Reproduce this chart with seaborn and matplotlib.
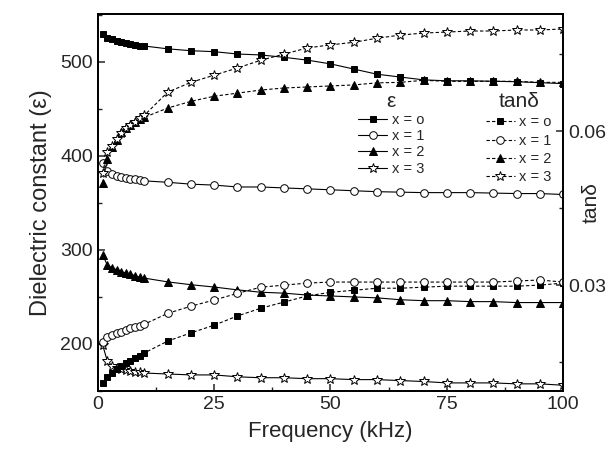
import matplotlib
matplotlib.use('Agg')
import matplotlib.pyplot as plt
import seaborn as sns
from matplotlib.lines import Line2D
from matplotlib.ticker import MultipleLocator

# frequency points (kHz)
freq = [1, 2, 3, 4, 5, 6, 7, 8, 9, 10,
        15, 20, 25, 30, 35, 40, 45, 50, 55, 60,
        65, 70, 75, 80, 85, 90, 95, 100]

# dielectric constant
eps_x0 = [530, 526, 524, 522, 521, 520, 519, 518, 517.5, 517,
          514, 512, 511, 508.5, 507.5, 505, 502, 498, 492.5, 487,
          484, 481, 480, 480, 479.5, 479, 478, 477]
eps_x1 = [392, 384, 381, 379, 378, 377, 376, 375, 374.5, 373.5,
          372, 370, 369, 367, 367, 366, 365, 364, 363, 362,
          361.5, 361, 361, 361, 360.5, 360, 360, 359]
eps_x2 = [295, 284, 281, 279, 277, 275.5, 274.5, 272.5, 271, 270,
          266, 263, 260.5, 257.5, 255, 254, 252, 251, 250, 249,
          247, 246, 246, 245, 245, 244, 244, 244]
eps_x3 = [199, 182, 176.5, 174.5, 173.5, 172, 171, 170, 170, 169,
          168, 167, 167, 165, 164, 164, 163, 163, 162, 162,
          161, 160, 158.5, 158.5, 158.5, 157.5, 157.5, 156]

# loss tangent
tan_x0 = [0.0109, 0.0121, 0.0129, 0.0136, 0.0142, 0.0148, 0.0152, 0.0158, 0.0162, 0.0168,
          0.0191, 0.0207, 0.0222, 0.0240, 0.0255, 0.0267, 0.0279, 0.0286, 0.0290, 0.0294,
          0.0294, 0.0296, 0.0298, 0.0298, 0.0298, 0.0298, 0.0300, 0.0304]
tan_x1 = [0.0189, 0.0199, 0.0203, 0.0207, 0.0208, 0.0212, 0.0216, 0.0218, 0.0220, 0.0224,
          0.0245, 0.0259, 0.0271, 0.0284, 0.0296, 0.0300, 0.0304, 0.0306, 0.0306, 0.0306,
          0.0306, 0.0306, 0.0306, 0.0306, 0.0306, 0.0308, 0.0310, 0.0306]
tan_x2 = [0.0499, 0.0545, 0.0569, 0.0582, 0.0598, 0.0606, 0.0612, 0.0618, 0.0623, 0.0627,
          0.0645, 0.0658, 0.0668, 0.0674, 0.0680, 0.0684, 0.0686, 0.0688, 0.0690, 0.0694,
          0.0695, 0.0699, 0.0697, 0.0697, 0.0697, 0.0697, 0.0695, 0.0695]
tan_x3 = [0.0518, 0.0559, 0.0571, 0.0584, 0.0596, 0.0606, 0.0612, 0.0618, 0.0625, 0.0631,
          0.0676, 0.0695, 0.0709, 0.0723, 0.0738, 0.0750, 0.0762, 0.0768, 0.0773, 0.0781,
          0.0787, 0.0791, 0.0793, 0.0795, 0.0795, 0.0797, 0.0797, 0.0799]

labels = ['x = o', 'x = 1', 'x = 2', 'x = 3']

sns.set_style('ticks')
plt.rcParams['font.family'] = ['Liberation Sans', 'DejaVu Sans']

# marker styles per composition
styles = [dict(marker='s', mfc='black', ms=4.5),
          dict(marker='o', mfc='white', ms=5.5),
          dict(marker='^', mfc='black', ms=5.5),
          dict(marker='*', mfc='white', ms=7.5)]

fig = plt.figure(figsize=(6.16, 4.54), dpi=100)
ax = fig.add_axes([0.159, 0.139, 0.755, 0.830])
ax2 = ax.twinx()

for ys, st in zip([eps_x0, eps_x1, eps_x2, eps_x3], styles):
    sns.lineplot(x=freq, y=ys, ax=ax, color='black', linewidth=0.8,
                 mec='black', mew=0.7, **st)

for ys, st in zip([tan_x0, tan_x1, tan_x2, tan_x3], styles):
    sns.lineplot(x=freq, y=ys, ax=ax2, color='black', linewidth=0.8,
                 linestyle=(0, (3, 2)), mec='black', mew=0.7, **st)

ax.set_xlim(0, 100)
ax.set_ylim(150, 551)
ax2.set_ylim(0.0094, 0.0828)

ax.xaxis.set_major_locator(MultipleLocator(25))
ax.xaxis.set_minor_locator(MultipleLocator(12.5))
ax.yaxis.set_major_locator(MultipleLocator(100))
ax.yaxis.set_minor_locator(MultipleLocator(50))
ax2.yaxis.set_minor_locator(MultipleLocator(0.015))
ax2.set_yticks([0.03, 0.06])
ax2.set_yticklabels(['0.03', '0.06'])

for a in (ax, ax2):
    a.tick_params(which='major', direction='in', length=5, width=1.1, labelsize=14)
    a.tick_params(which='minor', direction='in', length=3, width=1.0)
    for sp in a.spines.values():
        sp.set_linewidth(1.3)
        sp.set_color('black')

ax.set_xlabel('Frequency (kHz)', fontsize=16, labelpad=6)
ax.set_ylabel('Dielectric constant (\u03b5)', fontsize=17, labelpad=6)
ax2.set_ylabel('tan\u03b4', fontsize=15)
ax2.yaxis.set_label_coords(1.04, 0.5)

# two legends: solid (epsilon) and dashed (tan delta)
h_eps = [Line2D([], [], color='black', linewidth=0.8, mec='black', mew=0.7, **st)
         for st in styles]
h_tan = [Line2D([], [], color='black', linewidth=0.8, linestyle=(0, (3, 2)),
                mec='black', mew=0.7, **st) for st in styles]

leg1 = ax2.legend(h_eps, labels, title='\u03b5', loc='upper left',
                  bbox_to_anchor=(0.565, 0.82), bbox_transform=fig.transFigure,
                  frameon=False, fontsize=10.5, title_fontsize=15,
                  handlelength=2.0, handletextpad=0.3, labelspacing=0.15,
                  borderpad=0.2)
ax2.add_artist(leg1)
ax2.legend(h_tan, labels, title='tan\u03b4', loc='upper left',
           bbox_to_anchor=(0.772, 0.82), bbox_transform=fig.transFigure,
           frameon=False, fontsize=10.5, title_fontsize=15,
           handlelength=2.0, handletextpad=0.3, labelspacing=0.3,
           borderpad=0.2)

fig.savefig('out.png', dpi=100)
